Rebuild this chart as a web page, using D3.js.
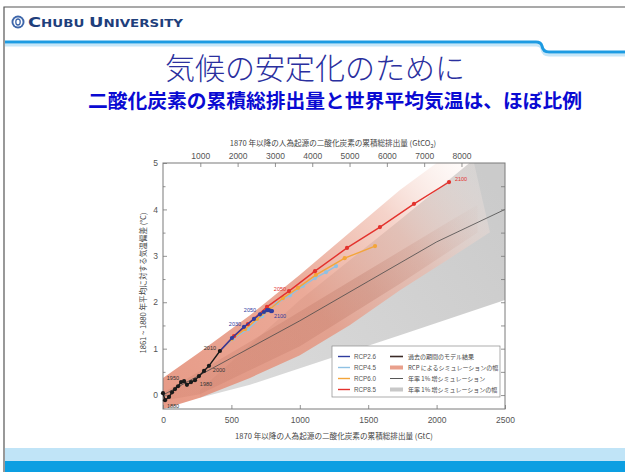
<!DOCTYPE html>
<html>
<head>
<meta charset="utf-8">
<script src="https://cdn.jsdelivr.net/npm/d3@7"></script>
<style>
  body { margin: 0; background: #fff; }
  svg { display: block; }
</style>
</head>
<body>
<script>
// --- data ---
const xTicks = [0, 500, 1000, 1500, 2000, 2500]          // GtC
const topTicks = [1000, 2000, 3000, 4000, 5000, 6000, 7000, 8000]  // GtCO2
const yTicks = [0, 1, 2, 3, 4, 5]
const yMinor = [0, 0.5, 1, 1.5, 2, 2.5, 3, 3.5, 4, 4.5]

const histYears = [1870, 1880, 1890, 1900, 1910, 1920, 1930, 1940, 1950, 1960, 1970, 1980, 1990, 2000, 2010]
const histC = [0, 15, 44, 66, 88, 110, 132, 154, 175, 205, 234, 263, 300, 336, 416]
const histT = [0.04, -0.11, -0.04, 0.06, 0.13, 0.19, 0.28, 0.30, 0.22, 0.28, 0.32, 0.41, 0.52, 0.63, 0.95]

const rcpYears = [2010, 2020, 2030, 2040, 2050, 2060, 2070, 2080, 2090, 2100]
const rcp26C = [416, 504, 592, 665, 709, 738, 760, 775, 789, 797]
const rcp26T = [0.95, 1.23, 1.47, 1.64, 1.74, 1.79, 1.83, 1.83, 1.81, 1.81]
const rcp45C = [416, 511, 621, 724, 833, 928, 1023, 1111, 1192, 1265]
const rcp45T = [0.95, 1.21, 1.42, 1.70, 1.98, 2.15, 2.35, 2.52, 2.65, 2.78]
const rcp60C = [416, 504, 600, 687, 782, 877, 987, 1118, 1328, 1550]
const rcp60T = [0.95, 1.21, 1.42, 1.64, 1.85, 2.09, 2.31, 2.59, 2.95, 3.21]
const rcp85C = [416, 519, 621, 760, 921, 1111, 1345, 1586, 1835, 2091]
const rcp85T = [0.95, 1.27, 1.53, 1.90, 2.24, 2.67, 3.17, 3.62, 4.12, 4.59]

// 1%/yr CO2 simulations: mean line
const onePctC = [0, 500, 1000, 1500, 2000, 2500]
const onePctT = [0, 0.8, 1.6, 2.45, 3.3, 4.0]

// plumes (edges of the shaded ranges)
const rcpUpC = [0, 270, 636, 1001, 1367, 1732, 2000, 2250]
const rcpUpT = [0.37, 0.93, 1.72, 2.59, 3.51, 4.42, 5.0, 5.3]
const rcpLoC = [2390, 2098, 1732, 1367, 1001, 636, 270, 0]
const rcpLoT = [3.51, 2.95, 2.26, 1.51, 0.86, 0.37, -0.06, -0.3]
const coreUpC = [0, 636, 1367, 2098, 2300]
const coreUpT = [0.05, 1.15, 2.45, 3.75, 4.1]
const coreLoC = [2300, 1732, 1001, 270, 0]
const coreLoT = [3.5, 2.4, 1.05, 0.02, -0.12]
const pctUpC = [270, 1001, 1732, 2240, 2500]
const pctUpT = [0.11, 2.05, 3.77, 5.0, 5.3]
const pctLoC = [2500, 1732, 1001, 636, 270]
const pctLoT = [2.05, 1.29, 0.58, 0.22, -0.06]

const legendLeft = ["RCP2.6", "RCP4.5", "RCP6.0", "RCP8.5"]
const legendRight = ["過去の期間のモデル結果", "RCP によるシミュレーションの幅", "年率 1% 増シミュレーション", "年率 1% 増シミュレーションの幅"]

const col26 = "#2f3c9e", col45 = "#8fc1e3", col60 = "#f3a53a", col85 = "#e3322d"
const jp = "'Noto Sans CJK JP', 'Noto Sans', sans-serif"
const num = "'Liberation Sans', Arial, sans-serif"

let svg = d3.select("body").append("svg").attr("width", 625).attr("height", 472)

// --- slide frame ---
svg.append("rect").attr("x", 5).attr("y", 448).attr("width", 620).attr("height", 13).attr("fill", "#c0e4f7")
svg.append("rect").attr("x", 5).attr("y", 461).attr("width", 620).attr("height", 11).attr("fill", "#0c9fe2")
svg.append("path").attr("d", "M4,472 V7 H625").attr("fill", "none").attr("stroke", "#555").attr("stroke-width", 1.2)

svg.append("path").attr("d", "M5,45 H536 Q541,45 542,49 Q543,55 549,55 H625")
    .attr("fill", "none").attr("stroke", "#c6e6f8").attr("stroke-width", 3)
svg.append("path").attr("d", "M5,42 H536 Q541,42 542,46 Q543,52 549,52 H625")
    .attr("fill", "none").attr("stroke", "#1d9be2").attr("stroke-width", 3)

// logo
svg.append("circle").attr("cx", 18).attr("cy", 22).attr("r", 6.5).attr("fill", "#3d66aa")
svg.append("circle").attr("cx", 18).attr("cy", 22).attr("r", 4.6).attr("fill", "#fff")
svg.append("ellipse").attr("cx", 18).attr("cy", 22).attr("rx", 2.2).attr("ry", 3).attr("fill", "none")
    .attr("stroke", "#3d66aa").attr("stroke-width", 1.3)

let brand = svg.append("text").attr("x", 28).attr("y", 27).attr("fill", "#1f3f7c")
    .attr("font-family", "'DejaVu Sans', sans-serif").attr("font-weight", "bold")
    .attr("textLength", 155).attr("lengthAdjust", "spacingAndGlyphs")
brand.append("tspan").attr("font-size", 14).text("C")
brand.append("tspan").attr("font-size", 10.5).text("HUBU ")
brand.append("tspan").attr("font-size", 14).text("U")
brand.append("tspan").attr("font-size", 10.5).text("NIVERSITY")

svg.append("text").attr("x", 315).attr("y", 79).attr("text-anchor", "middle")
    .attr("font-family", jp).attr("font-size", 30).attr("font-weight", 300).attr("fill", "#2a2f9e")
    .attr("textLength", 300).attr("lengthAdjust", "spacingAndGlyphs")
    .text("気候の安定化のために")
svg.append("text").attr("x", 335).attr("y", 108).attr("text-anchor", "middle")
    .attr("font-family", jp).attr("font-size", 19.5).attr("font-weight", "bold").attr("fill", "#0a0ad2")
    .attr("textLength", 494).attr("lengthAdjust", "spacingAndGlyphs")
    .text("二酸化炭素の累積総排出量と世界平均気温は、ほぼ比例")

// --- chart ---
let x = d3.scaleLinear().domain([0, 2500]).range([163, 505])
let xTop = d3.scaleLinear().domain([0, 2500 * 44 / 12]).range([163, 505])
let y = d3.scaleLinear().domain([-0.3, 5]).range([409, 163])

let defs = svg.append("defs")
defs.append("clipPath").attr("id", "plot")
    .append("rect").attr("x", 163).attr("y", 163).attr("width", 342).attr("height", 246)

let grad = defs.append("linearGradient").attr("id", "rcpGrad").attr("gradientUnits", "userSpaceOnUse")
    .attr("x1", 175).attr("y1", 400).attr("x2", 470).attr("y2", 170)
grad.append("stop").attr("offset", "0%").attr("stop-color", "#e38a73").attr("stop-opacity", 0.85)
grad.append("stop").attr("offset", "45%").attr("stop-color", "#e6957f").attr("stop-opacity", 0.8)
grad.append("stop").attr("offset", "75%").attr("stop-color", "#eeb6a6").attr("stop-opacity", 0.6)
grad.append("stop").attr("offset", "100%").attr("stop-color", "#fbeee9").attr("stop-opacity", 0.25)

let coreGrad = defs.append("linearGradient").attr("id", "coreGrad").attr("gradientUnits", "userSpaceOnUse")
    .attr("x1", 175).attr("y1", 400).attr("x2", 480).attr("y2", 190)
coreGrad.append("stop").attr("offset", "0%").attr("stop-color", "#a85a48").attr("stop-opacity", 0.12)
coreGrad.append("stop").attr("offset", "60%").attr("stop-color", "#a85a48").attr("stop-opacity", 0.22)
coreGrad.append("stop").attr("offset", "100%").attr("stop-color", "#a85a48").attr("stop-opacity", 0.0)

let grayGrad = defs.append("linearGradient").attr("id", "pctGrad").attr("gradientUnits", "userSpaceOnUse")
    .attr("x1", 250).attr("y1", 390).attr("x2", 505).attr("y2", 200)
grayGrad.append("stop").attr("offset", "0%").attr("stop-color", "#dadada")
grayGrad.append("stop").attr("offset", "100%").attr("stop-color", "#cbcbcb")

let plot = svg.append("g").attr("clip-path", "url(#plot)")

let poly = d3.line().x(d => x(d[0])).y(d => y(d[1]))
const band = (uc, ut, lc, lt) => poly(uc.map((c, i) => [c, ut[i]]).concat(lc.map((c, i) => [c, lt[i]]))) + "Z"
const pts = (cs, ts) => cs.map((c, i) => [c, ts[i]])

plot.append("path").attr("d", band(pctUpC, pctUpT, pctLoC, pctLoT)).attr("fill", "url(#pctGrad)")
plot.append("path").attr("d", band(rcpUpC, rcpUpT, rcpLoC, rcpLoT)).attr("fill", "url(#rcpGrad)")
plot.append("path").attr("d", band(coreUpC, coreUpT, coreLoC, coreLoT)).attr("fill", "url(#coreGrad)")

plot.append("path").attr("d", poly(pts(onePctC, onePctT)))
    .attr("fill", "none").attr("stroke", "#4a4a4a").attr("stroke-width", 0.8)

// axes
svg.append("g").attr("transform", "translate(0,409)")
    .call(d3.axisBottom(x).tickValues(xTicks).tickFormat(d3.format("d")).tickSizeInner(-4).tickSizeOuter(0).tickPadding(8))
svg.append("g").attr("transform", "translate(0,163)")
    .call(d3.axisTop(xTop).tickValues(topTicks).tickFormat(d3.format("d")).tickSizeInner(-4).tickSizeOuter(0).tickPadding(4))
svg.append("g").attr("transform", "translate(163,0)")
    .call(d3.axisLeft(y).tickValues(yTicks).tickFormat(d3.format("d")).tickSizeInner(-4).tickSizeOuter(0).tickPadding(5))
svg.append("g").attr("transform", "translate(163,0)")
    .call(d3.axisLeft(y).tickValues(yMinor.filter(v => v % 1)).tickSizeInner(-2.5).tickSizeOuter(0).tickFormat(""))
svg.append("g").attr("transform", "translate(505,0)")
    .call(d3.axisRight(y).tickValues(yMinor).tickSizeInner(-4).tickSizeOuter(0).tickFormat(""))

svg.selectAll(".domain").remove()
svg.selectAll(".tick line").attr("stroke", "#777").attr("stroke-width", 0.8)
svg.selectAll(".tick text").attr("font-family", num).attr("font-size", 8.5).attr("fill", "#555")

svg.append("rect").attr("x", 163).attr("y", 163).attr("width", 342).attr("height", 246)
    .attr("fill", "none").attr("stroke", "#7a7a7a").attr("stroke-width", 1)

// series
const series = [
  [rcp45C, rcp45T, col45],
  [rcp60C, rcp60T, col60],
  [rcp85C, rcp85T, col85],
  [rcp26C, rcp26T, col26],
  [histC, histT, "#1a1a1a"]
]
series.forEach(([cs, ts, col]) => {
  let g = svg.append("g")
  g.append("path").attr("d", poly(pts(cs, ts))).attr("fill", "none")
      .attr("stroke", col).attr("stroke-width", 1.4)
  g.selectAll("circle").data(pts(cs, ts).slice(cs === histC ? 0 : 1)).enter().append("circle")
      .attr("cx", d => x(d[0])).attr("cy", d => y(d[1])).attr("r", 2.1).attr("fill", col)
})

// year annotations
const notes = [
  [histC, histT, histYears, 1880, 8, 6, "#333"],
  [histC, histT, histYears, 1950, -14, -7, "#333"],
  [histC, histT, histYears, 1980, 7, 8, "#333"],
  [histC, histT, histYears, 2000, 10, 4, "#333"],
  [histC, histT, histYears, 2010, -10, -3, "#333"],
  [rcp26C, rcp26T, rcpYears, 2030, -9, -3, col26],
  [rcp26C, rcp26T, rcpYears, 2050, -10, -4, col26],
  [rcp26C, rcp26T, rcpYears, 2100, 8, 5, col26],
  [rcp85C, rcp85T, rcpYears, 2050, -9, -2, col85],
  [rcp85C, rcp85T, rcpYears, 2100, 12, -3, col85]
]
notes.forEach(([cs, ts, yrs, yr, dx, dy, col]) => {
  let i = yrs.indexOf(yr)
  svg.append("text").attr("x", x(cs[i]) + dx).attr("y", y(ts[i]) + dy + 2)
      .attr("text-anchor", "middle").attr("font-family", num).attr("font-size", 5.5)
      .attr("fill", col).text(yr)
})

// legend
let lg = svg.append("g").attr("transform", "translate(332,346)")
lg.append("rect").attr("width", 168).attr("height", 51).attr("fill", "#fff")
    .attr("stroke", "#8a8a8a").attr("stroke-width", 0.7)
const lcols = [col26, col45, col60, col85]
legendLeft.forEach((t, i) => {
  let yy = 10.5 + i * 11
  lg.append("line").attr("x1", 6).attr("x2", 18).attr("y1", yy).attr("y2", yy)
      .attr("stroke", lcols[i]).attr("stroke-width", 1.4)
  lg.append("text").attr("x", 22).attr("y", yy + 2).attr("font-family", num).attr("font-size", 6.3)
      .attr("fill", "#555").text(t)
})
legendRight.forEach((t, i) => {
  let yy = 10.5 + i * 11
  if (i === 0) lg.append("line").attr("x1", 58).attr("x2", 71).attr("y1", yy).attr("y2", yy)
      .attr("stroke", "#3a2a26").attr("stroke-width", 1.6)
  if (i === 1) lg.append("rect").attr("x", 58).attr("y", yy - 2).attr("width", 13).attr("height", 4).attr("fill", "#e9a08c")
  if (i === 2) lg.append("line").attr("x1", 58).attr("x2", 71).attr("y1", yy).attr("y2", yy)
      .attr("stroke", "#444").attr("stroke-width", 0.9)
  if (i === 3) lg.append("rect").attr("x", 58).attr("y", yy - 2).attr("width", 13).attr("height", 4).attr("fill", "#c8c8c8")
  lg.append("text").attr("x", 76).attr("y", yy + 2).attr("font-family", jp).attr("font-size", 6)
      .attr("fill", "#444").text(t)
})

// axis titles
let topTitle = svg.append("text").attr("x", 333).attr("y", 146).attr("text-anchor", "middle")
    .attr("font-family", jp).attr("font-size", 7.6).attr("fill", "#444")
topTitle.append("tspan").text("1870 年以降の人為起源の二酸化炭素の累積総排出量 (GtCO")
topTitle.append("tspan").attr("font-size", 5.5).attr("dy", 2).text("2")
topTitle.append("tspan").attr("dy", -2).text(")")
svg.append("text").attr("x", 334).attr("y", 439).attr("text-anchor", "middle")
    .attr("font-family", jp).attr("font-size", 7.6).attr("fill", "#444")
    .text("1870 年以降の人為起源の二酸化炭素の累積総排出量 (GtC)")
svg.append("text").attr("transform", "translate(146,283) rotate(-90)").attr("text-anchor", "middle")
    .attr("font-family", jp).attr("font-size", 7.6).attr("fill", "#444")
    .text("1861 ~ 1880 年平均に対する気温偏差 (°C)")
</script>
</body>
</html>
